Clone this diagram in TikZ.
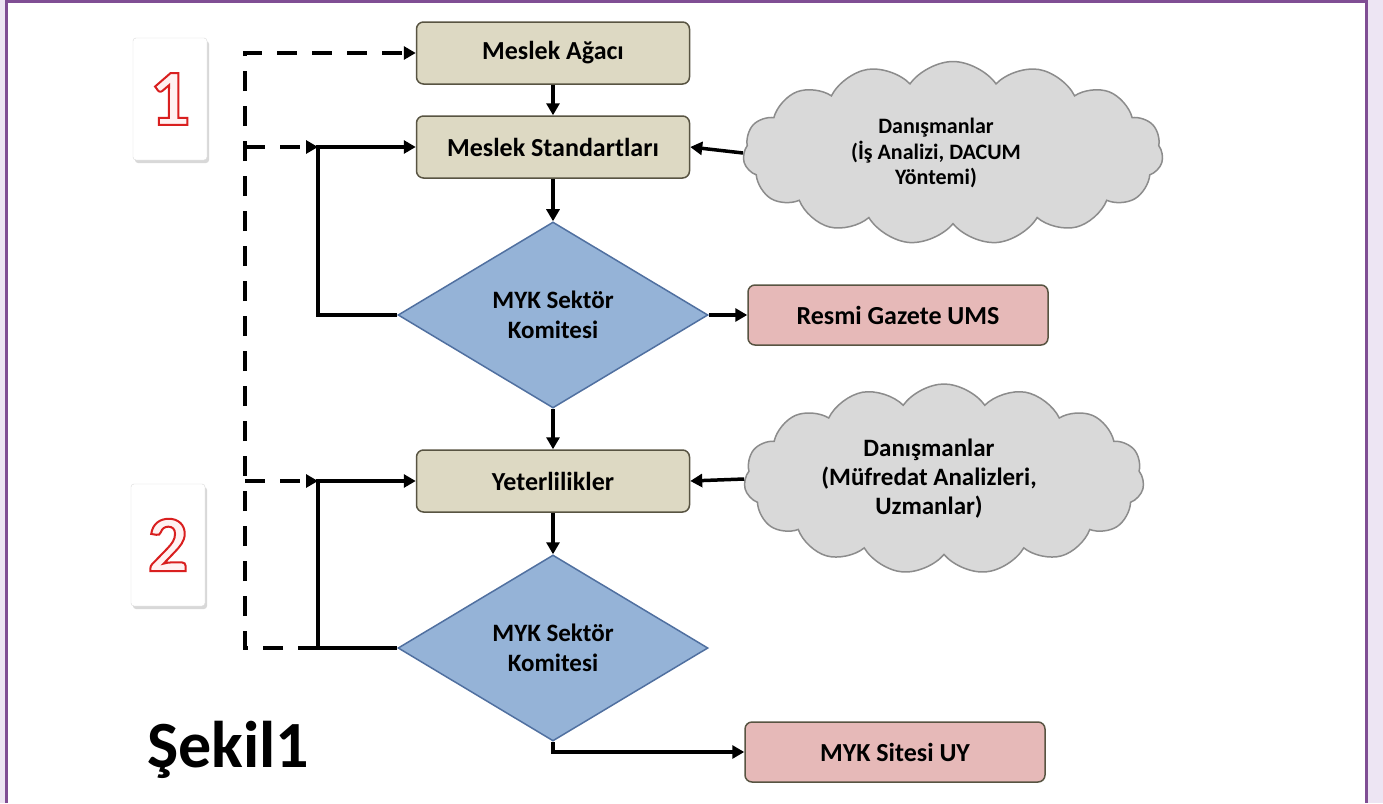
\documentclass[tikz,border=0pt]{standalone}
\usepackage{fontspec}
\setmainfont{Carlito}
\usetikzlibrary{arrows.meta,shapes.geometric,shapes.symbols,shadows}
\definecolor{kbeige}{RGB}{221,217,195}
\definecolor{kbeigeline}{RGB}{88,84,66}
\definecolor{kpink}{RGB}{230,185,184}
\definecolor{kblue}{RGB}{149,179,215}
\definecolor{kblueline}{RGB}{80,112,160}
\definecolor{kgrey}{RGB}{217,217,217}
\definecolor{kgreyline}{RGB}{140,140,140}
\definecolor{kpurple}{RGB}{128,78,148}
\definecolor{klilac}{RGB}{237,229,243}
\newcommand\kdigit[1]{\special{pdf:literal direct 2 Tr 2 w 0.85 0.12 0.12 RG 1 0.95 0.95 rg}#1\special{pdf:literal direct 0 Tr}}
\tikzset{
  box/.style={draw=kbeigeline, line width=1.5pt, rounded corners=7pt, align=center, minimum height=62pt, font=\bfseries\fontsize{26}{30}\selectfont},
  kstd/.style={box, fill=kbeige, minimum width=273pt},
  kout/.style={box, fill=kpink, minimum width=300pt, minimum height=60pt},
  kdecision/.style={diamond, draw=kblueline, fill=kblue, line width=1.5pt, align=center, minimum width=310pt, minimum height=186pt, inner sep=0pt, font=\bfseries\fontsize{25}{30}\selectfont},
  kcloud/.style={cloud, cloud puffs=15, cloud puff arc=110, cloud ignores aspect, draw=kgreyline, fill=kgrey, line width=1.5pt},
  ktext/.style 2 args={align=center, font=\bfseries\fontsize{#1}{#2}\selectfont},
  kbadge/.style={draw=black!15, fill=white, rounded corners=3pt, minimum width=74pt, minimum height=122pt, drop shadow={opacity=0.3, shadow xshift=2pt, shadow yshift=-3pt}, font=\bfseries\fontsize{80}{80}\selectfont},
  flow/.style={-{Triangle[length=12pt, width=13pt]}, line width=3.5pt},
  dflow/.style={flow, dash pattern=on 20pt off 15pt},
}

\begin{document}
\begin{tikzpicture}[x=1pt, y=-1pt]
    \useasboundingbox (0,0) rectangle (1383,803);
    \fill[klilac] (0,0) rectangle (1383,803);
    \fill[white] (7,3) rectangle (1366,803);
    \draw[kpurple, line width=3pt] (6.5,803) -- (6.5,1.5) -- (1366.5,1.5) -- (1366.5,803);
    \node[kstd] (ma) at (553,53) {Meslek Ağacı};
    \node[kstd] (ms) at (553,147) {Meslek Standartları};
    \node[kdecision] (k1) at (553,315) {MYK Sektör\\Komitesi};
    \node[kout] (rg) at (898,315) {Resmi Gazete UMS};
    \node[kcloud, minimum width=420pt, minimum height=183pt,
      label={[ktext={22}{25.5}, xshift=-17pt]center:Danışmanlar\\(İş Analizi, DACUM\\Yöntemi)}] (c1) at (953,153) {};
    \node[kstd] (yt) at (553,481) {Yeterlilikler};
    \node[kcloud, minimum width=400pt, minimum height=190pt,
      label={[ktext={25}{29}, xshift=-15pt]center:Danışmanlar\\(Müfredat Analizleri,\\Uzmanlar)}] (c2) at (944,479) {};
    \node[kdecision] (k2) at (553,648) {MYK Sektör\\Komitesi};
    \node[kout] (uy) at (895,752) {MYK Sitesi UY};
    \node[kbadge] (b1) at (170,99) {\kdigit{1}};
    \node[kbadge] (b2) at (168,545) {\kdigit{2}};
    \node[font=\bfseries\fontsize{66}{66}\selectfont] (sek) at (228,750) {Şekil1};
    \coordinate (j1) at (318,147);
    \coordinate (j2) at (318,481);
    \coordinate (j3) at (318,648);
    \coordinate (dtop) at (245,53);
    \coordinate (d1) at (245,147);
    \coordinate (d2) at (245,481);
    \coordinate (dbot) at (245,648);
    \draw[flow] (ma) -- (ms);
    \draw[flow] (ms) -- (k1);
    \draw[flow] (k1) -- (rg);
    \draw[flow] (k1) -- (yt);
    \draw[flow] (yt) -- (k2);
    \draw[flow] (k2.south) |- (uy.west);
    \draw[flow] (c1.west) -- (ms.east);
    \draw[flow] (c2.west) -- (yt.east);
    \draw[flow] (k1.west) -| (j1) -- (ms.west);
    \draw[flow] (k2.west) -| (j2) -- (yt.west);
    \draw[dflow] (j3) -- (dbot) -- (dtop) -- (ma.west);
    \draw[dflow] (d1) -- (j1);
    \draw[dflow] (d2) -- (j2);
\end{tikzpicture}
\end{document}
